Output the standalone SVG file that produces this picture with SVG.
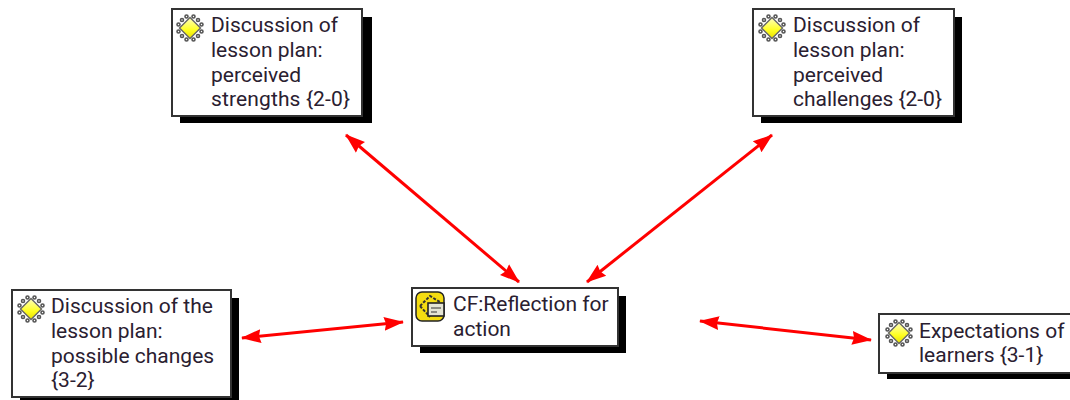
<svg xmlns="http://www.w3.org/2000/svg" width="1070" height="400" viewBox="0 0 1070 400">
<style>
.box{fill:#fff;stroke:#333;stroke-width:2}
.sh{fill:#000}
text{font-family:Roboto,"Noto Sans",sans-serif;font-size:21px;fill:#2a2030}
.c{fill:none;stroke:#f00;stroke-width:3}
</style>
<defs>
<linearGradient id="y" x1="0" y1="0" x2="0" y2="1"><stop offset="0" stop-color="#ffffc0"/><stop offset="0.6" stop-color="#ffff20"/><stop offset="1" stop-color="#e8e000"/></linearGradient>
<marker id="a" viewBox="0 0 20 16" refX="19" refY="8" markerWidth="20" markerHeight="16" markerUnits="userSpaceOnUse" orient="auto-start-reverse"><path d="M0 1L20 8L0 15L2 8Z" fill="#f00"/></marker>
<g id="ic">
<g fill="none" stroke="#555" stroke-width="1.6"><circle cx="-8" cy="-8" r="1.5"/><circle cx="-3.5" cy="-11.5" r="1.5"/><circle cx="3.5" cy="-11.5" r="1.5"/><circle cx="8" cy="-8" r="1.5"/><circle cx="-11.5" cy="-3.5" r="1.5"/><circle cx="11.5" cy="-3.5" r="1.5"/><circle cx="-11.5" cy="3.5" r="1.5"/><circle cx="11.5" cy="3.5" r="1.5"/><circle cx="-8" cy="8" r="1.5"/><circle cx="-3.5" cy="11.5" r="1.5"/><circle cx="3.5" cy="11.5" r="1.5"/><circle cx="8" cy="8" r="1.5"/></g>
<path d="M0-10.500L10.500 0L0 10.500L-10.500 0Z" fill="url(#y)" stroke="#666" stroke-width="1.4"/>
</g>
</defs>
<g id="connectors">
<path class="c" d="M346 135L519 282" marker-start="url(#a)" marker-end="url(#a)"/>
<path class="c" d="M772 135L587 282" marker-start="url(#a)" marker-end="url(#a)"/>
<path class="c" d="M242 338L403 322" marker-start="url(#a)" marker-end="url(#a)"/>
<path class="c" d="M700 321L871 340" marker-start="url(#a)" marker-end="url(#a)"/>
</g>
<g id="n1"><rect class="sh" x="180" y="17" width="192" height="106"/><rect class="box" x="172" y="9" width="190" height="107"/><use href="#ic" x="190" y="28"/>
<text><tspan x="211" y="32">Discussion of</tspan><tspan x="211" y="57">lesson plan:</tspan><tspan x="211" y="82">perceived</tspan><tspan x="211" y="106" textLength="139">strengths {2-0}</tspan></text></g>
<g id="n2"><rect class="sh" x="761" y="17" width="201" height="106"/><rect class="box" x="753" y="9" width="201" height="107"/><use href="#ic" x="772" y="28"/>
<text><tspan x="793" y="32">Discussion of</tspan><tspan x="793" y="57">lesson plan:</tspan><tspan x="793" y="82">perceived</tspan><tspan x="793" y="106" textLength="149">challenges {2-0}</tspan></text></g>
<g id="n3"><rect class="sh" x="20" y="298" width="219" height="102"/><rect class="box" x="12" y="290" width="219" height="107"/><use href="#ic" x="31" y="309"/>
<text><tspan x="51" y="313">Discussion of the</tspan><tspan x="51" y="338">lesson plan:</tspan><tspan x="51" y="363">possible changes</tspan><tspan x="51" y="387">{3-2}</tspan></text></g>
<g id="n4"><rect class="sh" x="420" y="296" width="206" height="57"/><rect class="box" x="412" y="288" width="206" height="58"/>
<rect x="416" y="292" width="28" height="29" rx="6" fill="#f4dc10" stroke="#222" stroke-width="1.5"/>
<path d="M420 306L430 296L440 302M420 306L430 317" fill="none" stroke="#333" stroke-width="2" stroke-dasharray="3 1.500"/>
<rect x="428" y="303" width="16" height="13" fill="#e4e4d4" stroke="#222" stroke-width="1.6"/><path d="M431 308H441M431 312H437" stroke="#333"/>
<text><tspan x="453" y="311">CF:Reflection for</tspan><tspan x="453" y="336">action</tspan></text></g>
<g id="n5"><rect class="sh" x="887" y="322" width="183" height="57"/><rect class="box" x="879" y="314" width="195" height="59"/><use href="#ic" x="899" y="333"/>
<text><tspan x="919" y="338">Expectations of</tspan><tspan x="919" y="362">learners {3-1}</tspan></text></g>
</svg>
